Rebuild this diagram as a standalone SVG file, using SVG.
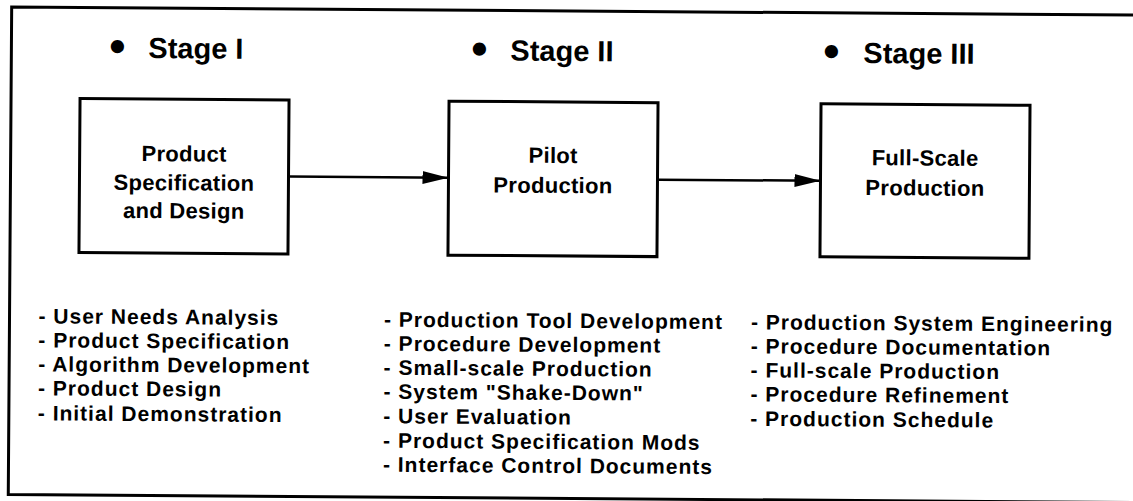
<svg xmlns="http://www.w3.org/2000/svg" width="1133" height="501" viewBox="0 0 1133 501">
<style>
text{font-family:"Liberation Sans",Arial,Helvetica,sans-serif;font-weight:bold;fill:#000}
.stage{font-size:29px}
.bul{font-size:46px;text-anchor:middle}
.box{fill:#fff;stroke:#000;stroke-width:3}
.lbl{font-size:22px;text-anchor:middle;letter-spacing:0.3px}
.lst{font-size:21px;letter-spacing:1px}
.frame{fill:none;stroke:#000;stroke-width:3}
.conn{stroke:#000;stroke-width:2.5;fill:none}
</style>
<defs>
<marker id="ah" markerWidth="26" markerHeight="14" refX="26" refY="7" orient="auto" markerUnits="userSpaceOnUse">
<path d="M0,0.5 L26,7 L0,13.5 Z" fill="#000"/>
</marker>
</defs>
<rect width="1133" height="501" fill="#fff"/>
<g transform="rotate(0.4 566 250)">
<path class="frame" d="M1150,11 H10 V498.5 H1150"/>
<g id="stage1">
<text class="bul" x="116" y="65">•</text>
<text class="stage" x="147" y="61">Stage I</text>
</g>
<g id="stage2">
<text class="bul" x="478" y="65">•</text>
<text class="stage" x="509" y="61">Stage II</text>
</g>
<g id="stage3">
<text class="bul" x="830" y="65">•</text>
<text class="stage" x="862" y="61">Stage III</text>
</g>
<g id="node1">
<rect class="box" x="79" y="102" width="209" height="154"/>
<text class="lbl" x="183.5" y="164">Product</text>
<text class="lbl" x="183.5" y="193">Specification</text>
<text class="lbl" x="183.5" y="221">and Design</text>
</g>
<g id="node2">
<rect class="box" x="448" y="102" width="209" height="154"/>
<text class="lbl" x="552.5" y="163">Pilot</text>
<text class="lbl" x="552.5" y="193">Production</text>
</g>
<g id="node3">
<rect class="box" x="820" y="102" width="209" height="153"/>
<text class="lbl" x="924.5" y="163">Full-Scale</text>
<text class="lbl" x="924.5" y="193">Production</text>
</g>
<g id="connectors">
<line class="conn" x1="289.5" y1="178.5" x2="448" y2="178.5" marker-end="url(#ah)"/>
<line class="conn" x1="658.5" y1="179" x2="820" y2="179" marker-end="url(#ah)"/>
</g>
<g id="list1">
<text class="lst" x="39" y="327">- User Needs Analysis</text>
<text class="lst" x="39" y="351">- Product Specification</text>
<text class="lst" x="39" y="375">- Algorithm Development</text>
<text class="lst" x="39" y="399">- Product Design</text>
<text class="lst" x="39" y="424">- Initial Demonstration</text>
</g>
<g id="list2">
<text class="lst" x="384.5" y="328">- Production Tool Development</text>
<text class="lst" x="384.5" y="352">- Procedure Development</text>
<text class="lst" x="384.5" y="376">- Small-scale Production</text>
<text class="lst" x="384.5" y="400">- System "Shake-Down"</text>
<text class="lst" x="384.5" y="424.5">- User Evaluation</text>
<text class="lst" x="384.5" y="449">- Product Specification Mods</text>
<text class="lst" x="384.5" y="473">- Interface Control Documents</text>
</g>
<g id="list3">
<text class="lst" x="751.5" y="328">- Production System Engineering</text>
<text class="lst" x="751.5" y="352">- Procedure Documentation</text>
<text class="lst" x="751.5" y="376">- Full-scale Production</text>
<text class="lst" x="751.5" y="400">- Procedure Refinement</text>
<text class="lst" x="751.5" y="424.5">- Production Schedule</text>
</g>
</g>
</svg>
